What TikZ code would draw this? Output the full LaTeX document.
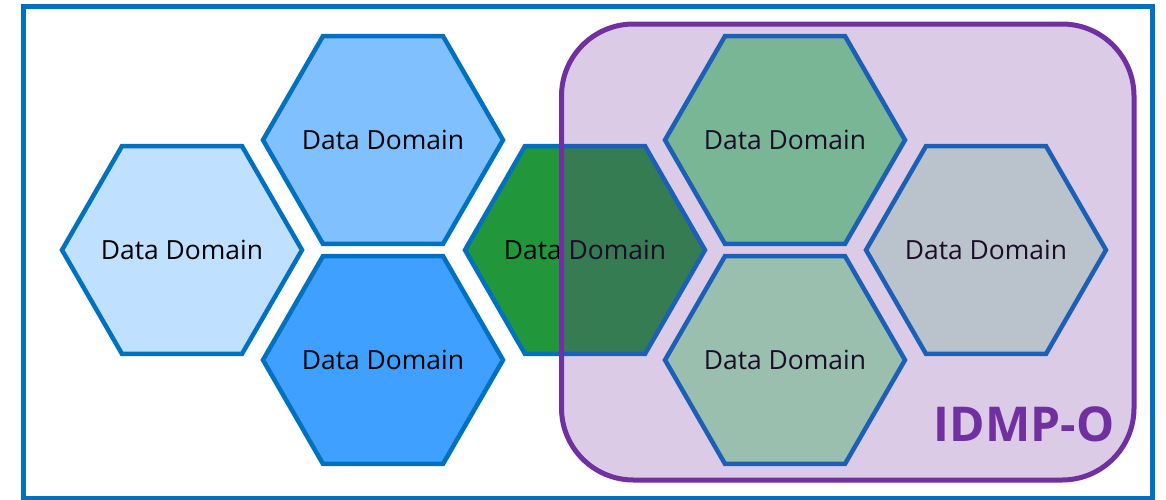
\documentclass[tikz,border=0pt]{standalone}
\usepackage{fontspec}
\setmainfont{Open Sans}
\usetikzlibrary{shapes.geometric}

\definecolor{msblue}{HTML}{0070C0}
\definecolor{idmp}{HTML}{7030A0}
\definecolor{ddA}{HTML}{C0E0FF}
\definecolor{ddB}{HTML}{80C0FF}
\definecolor{ddC}{HTML}{40A0FF}
\definecolor{ddD}{HTML}{22963A}
\definecolor{ddE}{HTML}{7CE393}
\definecolor{ddF}{HTML}{A9EFB4}
\definecolor{ddG}{HTML}{D3F5DC}

\tikzset{
  datahex/.style={regular polygon, regular polygon sides=6, minimum size=240pt,
    inner sep=0pt, draw=msblue, line width=4.5pt},
  every label/.style={font=\fontsize{26.4}{30}\selectfont},
}

\begin{document}
\begin{tikzpicture}[x=1pt,y=-1pt]
  \useasboundingbox (0,0) rectangle (1166,499);
  \draw[msblue,line width=5pt] (23.5,6.5) rectangle (1152.5,498);

  \node[datahex,fill=ddA,label=center:Data Domain] (dd1) at (182,250) {};
  \node[datahex,fill=ddB,label=center:Data Domain] (dd2) at (383,140) {};
  \node[datahex,fill=ddC,label=center:Data Domain] (dd3) at (383,360) {};
  \node[datahex,fill=ddD,label=center:Data Domain] (dd4) at (585,250) {};
  \node[datahex,fill=ddE,label=center:Data Domain] (dd5) at (785,140) {};
  \node[datahex,fill=ddF,label=center:Data Domain] (dd6) at (785,360) {};
  \node[datahex,fill=ddG,label=center:Data Domain] (dd7) at (986,250) {};

  \draw[idmp,line width=5pt,fill=idmp,fill opacity=0.25,rounded corners=72pt]
    (561.5,24) rectangle (1134,480);
  \node[text=idmp,font=\bfseries\fontsize{48}{50}\selectfont] (idmp) at (1024,424) {IDMP-O};
\end{tikzpicture}
\end{document}
